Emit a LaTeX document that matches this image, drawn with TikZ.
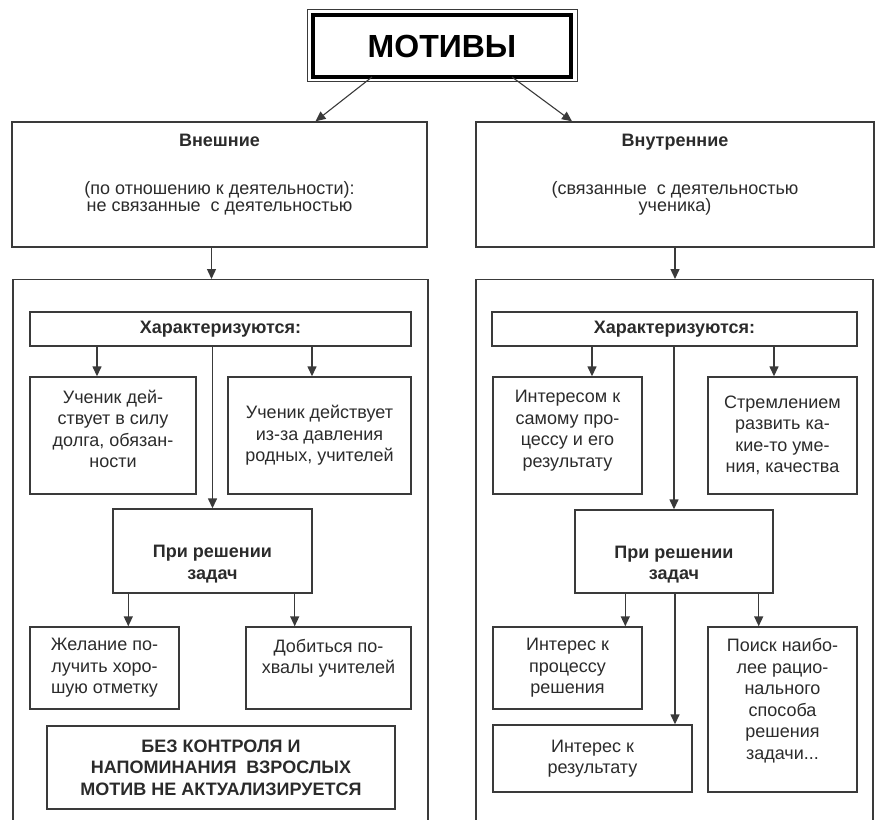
\documentclass[tikz,border=0pt]{standalone}
\usepackage{fontspec}
\setmainfont{Liberation Sans}
\usetikzlibrary{arrows.meta, positioning, calc}
\definecolor{inkgray}{HTML}{2B2B2B}
\definecolor{framegray}{HTML}{3A3A3A}

\begin{document}
\begin{tikzpicture}[x=1pt, y=-1pt, text=inkgray]
    \tikzstyle{panel} = [rectangle, draw=framegray, line width=1.4pt, inner sep=0pt,
      align=center, font=\fontsize{18}{21.5}\selectfont]
    \tikzstyle{boldpanel} = [panel, font=\fontsize{18}{21.5}\selectfont\bfseries]
    \tikzstyle{head} = [panel, font=\fontsize{18}{17}\selectfont]
    \tikzstyle{arr} = [-{Triangle[length=10pt, width=9pt]}, line width=1.4pt, draw=framegray]

    \clip (0,0) rectangle (877,819);

    % title
    \node (motivy) [panel, line width=4pt, outer sep=0pt, draw=black, text=black,
      minimum width=258pt, minimum height=62pt, font=\fontsize{32}{32}\selectfont\bfseries]
      at (442,46) {МОТИВЫ};
    \draw [line width=1pt, framegray] ($(motivy.south west)+(-6,4.5)$) rectangle ($(motivy.north east)+(6,-6)$);

    \node (vnesh) [head, minimum width=415pt, minimum height=125pt] at (219.5,184.5)
      {\textbf{Внешние}\\[31.5pt](по отношению к деятельности):\\не связанные\ \ с деятельностью\rule[-23pt]{0pt}{23pt}};
    \node (vnutr) [head, minimum width=398pt, minimum height=125pt] at (675,184.5)
      {\textbf{Внутренние}\\[31.5pt](связанные\ \ с деятельностью\\ученика)\rule[-23pt]{0pt}{23pt}};

    \draw [arr, line width=1.1pt] ([xshift=-70pt]motivy.south) -- ([xshift=96pt]vnesh.north);
    \draw [arr, line width=1.1pt] ([xshift=70pt]motivy.south) -- ([xshift=-103pt]vnutr.north);

    % outer frames
    \node (lbig) [panel, minimum width=415pt, minimum height=600pt, anchor=north] at (220.5,279) {};
    \node (rbig) [panel, minimum width=397pt, minimum height=600pt, anchor=north] at (674.5,279) {};
    \draw [arr] ([xshift=-8pt]vnesh.south) -- ([xshift=-8pt]vnesh.south |- lbig.north);
    \draw [arr] (vnutr.south) -- (vnutr.south |- rbig.north);

    % left column
    \node (lchar) [boldpanel, minimum width=381pt, minimum height=34pt] at (220.5,329) {Характеризуются:};
    \node (ldolg) [panel, minimum width=166pt, minimum height=117pt] at (113,435.5)
      {Ученик дей-\\ствует в силу\\долга, обязан-\\ности\rule[-13pt]{0pt}{13pt}};
    \node (ldavl) [panel, minimum width=183pt, minimum height=117pt] at (319.5,435.5)
      {Ученик действует\\из-за давления\\родных, учителей};
    \node (lzad) [boldpanel, minimum width=199pt, minimum height=84pt] at (212.5,551)
      {\rule{0pt}{38.5pt}При решении\\задач};
    \node (lpol) [panel, minimum width=149pt, minimum height=82pt] at (104.5,668)
      {Желание по-\\лучить хоро-\\шую отметку};
    \node (lpohv) [panel, minimum width=165pt, minimum height=82pt] at (328.5,668)
      {Добиться по-\\хвалы учителей\rule[-23pt]{0pt}{23pt}};
    \node (lbez) [boldpanel, minimum width=348pt, minimum height=83pt] at (221,767.5)
      {БЕЗ КОНТРОЛЯ И\\НАПОМИНАНИЯ\ \ ВЗРОСЛЫХ\\МОТИВ НЕ АКТУАЛИЗИРУЕТСЯ};

    \draw [arr] ([xshift=-16pt]ldolg.north |- lchar.south) -- ([xshift=-16pt]ldolg.north);
    \draw [arr] ([xshift=-7.5pt]ldavl.north |- lchar.south) -- ([xshift=-7.5pt]ldavl.north);
    \draw [arr] (lzad.north |- lchar.south) -- (lzad.north);
    \draw [arr] ([xshift=16pt]lzad.south west) -- ([xshift=16pt]lzad.south west |- lpol.north);
    \draw [arr] ([xshift=-18pt]lzad.south east) -- ([xshift=-18pt]lzad.south east |- lpohv.north);

    % right column
    \node (rchar) [boldpanel, minimum width=365pt, minimum height=34pt] at (674.5,329) {Характеризуются:};
    \node (rint) [panel, minimum width=149pt, minimum height=117pt] at (567.5,435.5)
      {Интересом к\\самому про-\\цессу и его\\результату\rule[-13pt]{0pt}{13pt}};
    \node (rstr) [panel, minimum width=149pt, minimum height=117pt] at (782.5,435.5)
      {Стремлением\\развить ка-\\кие-то уме-\\ния, качества};
    \node (rzad) [boldpanel, minimum width=198pt, minimum height=83pt] at (674,551.5)
      {\rule{0pt}{38.5pt}При решении\\задач};
    \node (rproc) [panel, minimum width=149pt, minimum height=82pt] at (567.5,668)
      {Интерес к\\процессу\\решения};
    \node (rres) [panel, minimum width=199pt, minimum height=67pt] at (592.5,758.5)
      {Интерес к\\результату};
    \node (rpoisk) [panel, minimum width=149pt, minimum height=165pt] at (782.5,709.5)
      {Поиск наибо-\\лее рацио-\\нального\\способа\\решения\\задачи...\rule[-21pt]{0pt}{21pt}};

    \draw [arr] ([xshift=24.5pt]rint.north |- rchar.south) -- ([xshift=24.5pt]rint.north);
    \draw [arr] ([xshift=-8.5pt]rstr.north |- rchar.south) -- ([xshift=-8.5pt]rstr.north);
    \draw [arr] (rzad.north |- rchar.south) -- (rzad.north);
    \draw [arr] ([xshift=51pt]rzad.south west) -- ([xshift=51pt]rzad.south west |- rproc.north);
    \draw [arr] ([xshift=-15pt]rzad.south east) -- ([xshift=-15pt]rzad.south east |- rpoisk.north);
    \draw [arr] ([xshift=1pt]rzad.south) -- ([xshift=1pt]rzad.south |- rres.north);
\end{tikzpicture}
\end{document}
